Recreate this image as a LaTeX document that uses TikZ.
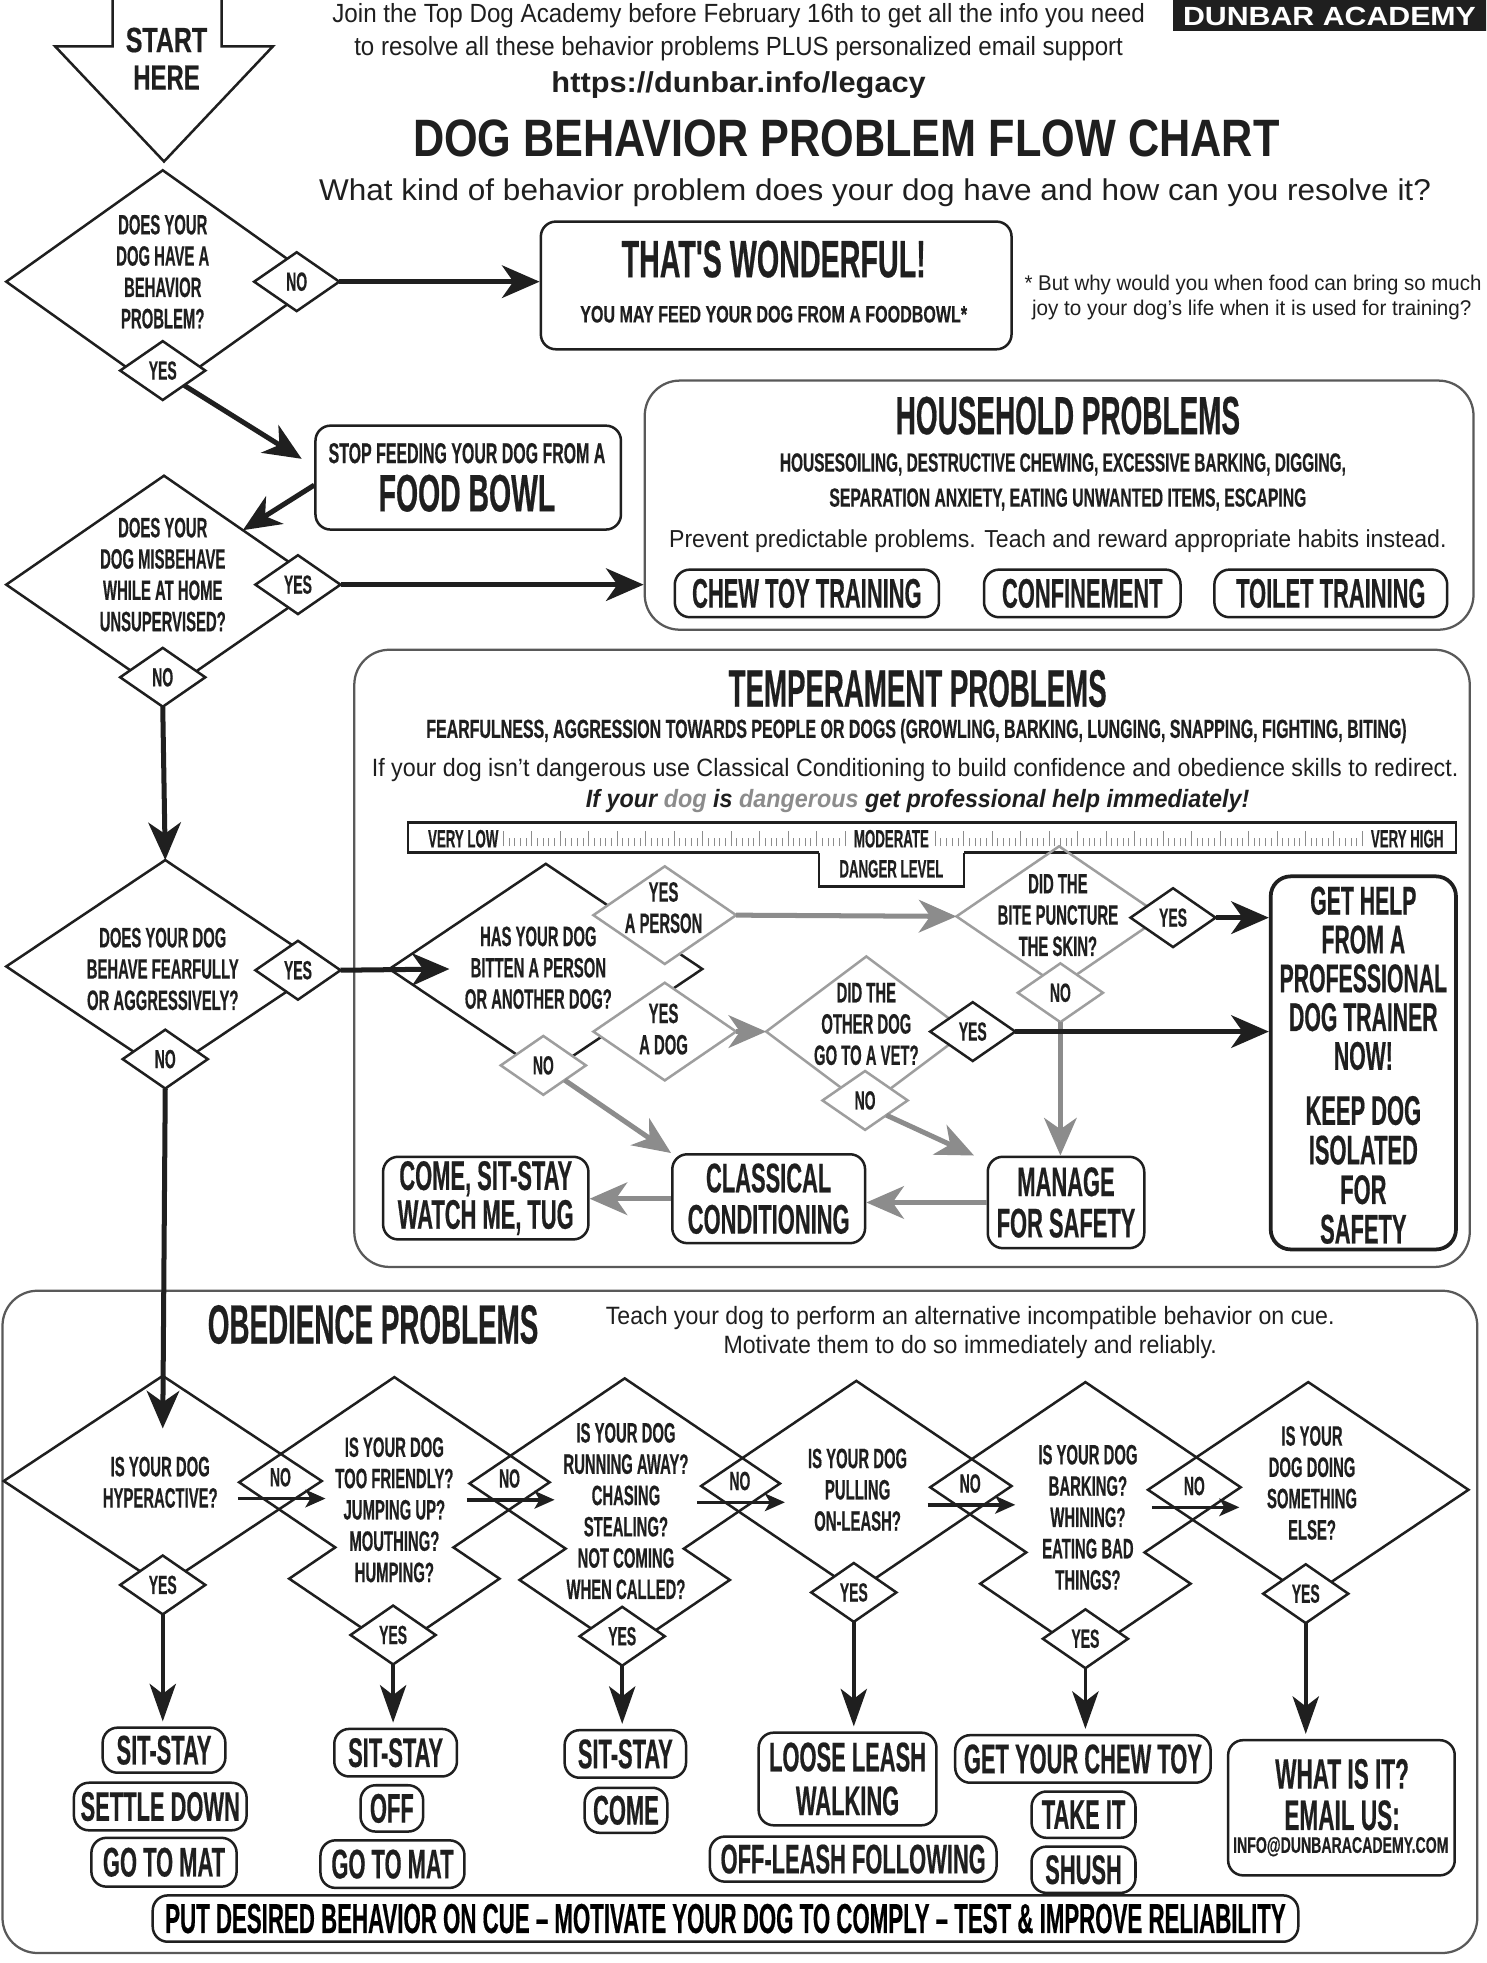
\documentclass[tikz,border=0pt]{standalone}
\usepackage{fontspec}
\usepackage{graphicx}
\setmainfont{Liberation Sans}
\newfontfamily\cf[FakeStretch=0.53,FakeBold=0.4]{Liberation Sans}
\usetikzlibrary{arrows.meta,shapes.geometric}
\newcommand\fw[2]{\resizebox{#1}{\height}{#2}}
\definecolor{ink}{gray}{0.12}
\definecolor{gry}{gray}{0.55}
\definecolor{lgry}{gray}{0.62}
\definecolor{pan}{gray}{0.35}
\tikzset{
  q/.style={font=\cf\bfseries\fontsize{11.2}{12.5}\selectfont, align=center, text=ink, inner sep=0pt},
  yn/.style={font=\cf\bfseries\fontsize{10.5}{11}\selectfont, align=center, text=ink, inner sep=0pt},
  big/.style={font=\cf\bfseries\fontsize{16.5}{16.5}\selectfont, align=center, text=ink, inner sep=0pt},
  dshape/.style={diamond, draw=ink, line width=1pt, inner sep=0pt, outer sep=0pt},
  gshape/.style={dshape, draw=lgry},
  ghost/.style={diamond, inner sep=0pt, outer sep=0pt},
  smd/.style={diamond, draw=ink, fill=white, line width=1pt, inner sep=0pt, outer sep=0pt, minimum width=34pt, minimum height=23.5pt, yn},
  gsmd/.style={smd, draw=lgry},
  box/.style={draw=ink, line width=1pt, rounded corners=6pt, inner sep=0pt, fill=white},
  panel/.style={draw=pan, line width=0.9pt, rounded corners=14pt, inner sep=0pt},
  darr/.style={draw=ink, line width=2pt, -{Stealth[length=15pt,width=13pt,inset=4.5pt]}},
  garr/.style={draw=gry, line width=2pt, -{Stealth[length=15pt,width=13pt,inset=4.5pt]}},
  varr/.style={draw=ink, line width=1.5pt, -{Stealth[length=15pt,width=10.5pt,inset=4pt]}},
  narr/.style={draw=ink, line width=1.4pt, -{Stealth[length=8pt,width=7pt,inset=2pt]}},
  txt/.style={inner sep=0pt, text=ink},
  tick/.style={draw=gry, line width=0.35pt},
  cft/.style={font=\cf\bfseries\fontsize{10}{11}\selectfont, text=ink, inner sep=0pt},
}
\begin{document}
\begin{tikzpicture}[x=0.5pt,y=-0.5pt]
\useasboundingbox (0,0) rectangle (1187,1568);
\begin{scope}
\clip (0,0) rectangle (1187,1568);
\fill[white] (0,0) rectangle (1187,1568);

% ---------------- header
\fill[ink] (937,-5) rectangle (1190,25);
\node[anchor=base, inner sep=0pt, text=white] (brand) at (1062,20) {\fw{117pt}{\bfseries\fontsize{10.5}{12}\selectfont DUNBAR ACADEMY}};
\node[anchor=base, txt] (hd1) at (590,18) {\fw{324.5pt}{\fontsize{10.5}{12}\selectfont Join the Top Dog Academy before February 16th to get all the info you need}};
\node[anchor=base, txt] (hd2) at (590,44) {\fw{307pt}{\fontsize{10.5}{12}\selectfont to resolve all these behavior problems PLUS personalized email support}};
\node[anchor=base, txt] (url) at (590,74) {\fw{149.5pt}{\bfseries\fontsize{11.5}{13}\selectfont https://dunbar.info/legacy}};
\node[anchor=base, txt] (title) at (676,125) {\fw{346pt}{\bfseries\fontsize{21}{24}\selectfont DOG BEHAVIOR PROBLEM FLOW CHART}};
\node[anchor=base, txt] (sub) at (699,160) {\fw{444pt}{\fontsize{12}{14}\selectfont What kind of behavior problem does your dog have and how can you resolve it?}};

% START HERE arrow
\draw[ink, line width=1pt] (90,-2) -- (90,37) -- (44,37) -- (131,129) -- (218,37) -- (177,37) -- (177,-2);
\node[txt] (start1) at (133,32) {\fw{32.5pt}{\cf\bfseries\fontsize{14}{14}\selectfont START}};
\node[txt] (start2) at (133,62) {\fw{26.5pt}{\cf\bfseries\fontsize{14}{14}\selectfont HERE}};

% ---------------- panels
\node[panel, minimum width=331pt, minimum height=99.5pt] (house) at (846,403.5) {};
\node[panel, minimum width=445.5pt, minimum height=246.5pt] (temp) at (728.5,765.5) {};
\node[panel, minimum width=589pt, minimum height=264.5pt] (obed) at (591,1295.5) {};

% ---------------- top boxes
\node[box, minimum width=188pt, minimum height=51pt] (wonder) at (620,228) {};
\node[txt] (wt1) at (618,207) {\fw{121.5pt}{\cf\bfseries\fontsize{21}{22}\selectfont THAT'S WONDERFUL!}};
\node[txt] (wt2) at (618,251) {\fw{154.5pt}{\cf\bfseries\fontsize{9.5}{10}\selectfont YOU MAY FEED YOUR DOG FROM A FOODBOWL*}};
\node[txt, anchor=base west] (fn1) at (818,232) {\fw{182.5pt}{\fontsize{8.5}{10}\selectfont * But why would you when food can bring so much}};
\node[txt, anchor=base west] (fn2) at (824,252) {\fw{175.5pt}{\fontsize{8.5}{10}\selectfont joy to your dog's life when it is used for training?}};

\node[box, minimum width=122pt, minimum height=41.5pt] (stop) at (374,381.5) {};
\node[txt] (st1) at (373,362) {\fw{110.5pt}{\cf\bfseries\fontsize{11.5}{12}\selectfont STOP FEEDING YOUR DOG FROM A}};
\node[txt] (st2) at (373,394) {\fw{70.5pt}{\cf\bfseries\fontsize{21}{22}\selectfont FOOD BOWL}};

% household contents
\node[txt] (ht1) at (853,332) {\fw{137.5pt}{\cf\bfseries\fontsize{21.5}{22}\selectfont HOUSEHOLD PROBLEMS}};
\node[txt] (ht2) at (849,371) {\fw{226pt}{\cf\bfseries\fontsize{10.5}{11}\selectfont HOUSESOILING, DESTRUCTIVE CHEWING, EXCESSIVE BARKING, DIGGING,}};
\node[txt] (ht3) at (853,399) {\fw{190.5pt}{\cf\bfseries\fontsize{10.5}{11}\selectfont SEPARATION ANXIETY, EATING UNWANTED ITEMS, ESCAPING}};
\node[txt] (ht4) at (845,432) {\fw{310.5pt}{\fontsize{9.8}{11}\selectfont Prevent predictable problems. Teach and reward appropriate habits instead.}};
\node[box, big, minimum width=105.5pt, minimum height=19pt] (chew) at (644.5,474) {CHEW TOY TRAINING};
\node[box, big, minimum width=78.5pt, minimum height=19pt] (conf) at (864.5,474) {CONFINEMENT};
\node[box, big, minimum width=93pt, minimum height=19pt] (toilet) at (1063,474) {TOILET TRAINING};

% temperament header
\node[txt] (tt1) at (733,550) {\fw{151pt}{\cf\bfseries\fontsize{21}{22}\selectfont TEMPERAMENT PROBLEMS}};
\node[txt] (tt2) at (732,584) {\fw{391.5pt}{\cf\bfseries\fontsize{10.5}{11}\selectfont FEARFULNESS, AGGRESSION TOWARDS PEOPLE OR DOGS (GROWLING, BARKING, LUNGING, SNAPPING, FIGHTING, BITING)}};
\node[txt] (tt3) at (731,615) {\fw{434pt}{\fontsize{10}{12}\selectfont If your dog isn't dangerous use Classical Conditioning to build confidence and obedience skills to redirect.}};
\node[txt] (tt4) at (733,640) {\fw{265pt}{\bfseries\itshape\fontsize{10}{12}\selectfont If your \textcolor{gry}{dog} is \textcolor{gry}{dangerous} get professional help immediately!}};

% danger bar
\draw[ink, line width=1pt] (654,681) -- (326,681) -- (326,657) -- (1163,657) -- (1163,681) -- (770,681);
\draw[ink, line width=1pt] (654,681) -- (654,708) -- (770,708) -- (770,681);
\foreach \i in {0,...,60} {\pgfmathsetmacro\yy{mod(\i,5)==0 ? 664 : 669}\draw[tick] ({402+4.55*\i},676) -- ({402+4.55*\i},\yy);}
\foreach \i in {0,...,75} {\pgfmathsetmacro\yy{mod(\i,5)==0 ? 664 : 669}\draw[tick] ({747+4.55*\i},676) -- ({747+4.55*\i},\yy);}
\node[cft, fill=white, inner xsep=1pt] (vlow) at (370,670) {VERY LOW};
\node[cft, fill=white, inner xsep=1pt] (vmod) at (712,670) {MODERATE};
\node[cft, fill=white, inner xsep=1pt] (vhigh) at (1124,670) {VERY HIGH};
\node[cft] (dlev) at (712,694) {DANGER LEVEL};

% ---------------- main column diamonds
\node[dshape, minimum width=125pt, minimum height=89pt] (d1) at (130,225) {};
\node[q] (d1t) at (130,217) {DOES YOUR\\DOG HAVE A\\BEHAVIOR\\PROBLEM?};
\node[smd] (d1no) at (237,225) {NO};
\node[smd] (d1yes) at (130,296) {YES};

\node[dshape, minimum width=126pt, minimum height=87pt] (d2) at (131,467) {};
\node[q] (d2t) at (130,459) {DOES YOUR\\DOG MISBEHAVE\\WHILE AT HOME\\UNSUPERVISED?};
\node[smd] (d2yes) at (238,467) {YES};
\node[smd] (d2no) at (130,541) {NO};

\node[dshape, minimum width=127pt, minimum height=85pt] (d3) at (132,772) {};
\node[q] (d3t) at (130,774) {DOES YOUR DOG\\BEHAVE FEARFULLY\\OR AGGRESSIVELY?};
\node[smd] (d3yes) at (238,775) {YES};
\node[smd] (d3no) at (132,846) {NO};

% ---------------- temperament flow
\node[dshape, minimum width=125pt, minimum height=84pt] (d5) at (436,774) {};
\node[q] (d5t) at (430,773) {HAS YOUR DOG\\BITTEN A PERSON\\OR ANOTHER DOG?};
\node[gshape, fill=white, minimum width=57pt, minimum height=39pt] (yperson) at (531,731) {};
\node[q] (ypt) at (530,725) {YES\\A PERSON};
\node[gshape, fill=white, minimum width=57pt, minimum height=39pt] (ydog) at (531,824) {};
\node[q] (ydt) at (530,822) {YES\\A DOG};
\node[gsmd] (d5no) at (434,851) {NO};

\node[gshape, minimum width=82pt, minimum height=56pt] (d6) at (846,732) {};
\node[q] (d6t) at (845,731) {DID THE\\BITE PUNCTURE\\THE SKIN?};
\node[smd] (d6yes) at (937,733) {YES};
\node[gsmd] (d6no) at (847,793) {NO};

\node[gshape, minimum width=80pt, minimum height=60pt] (d7) at (692,824) {};
\node[q] (d7t) at (692,818) {DID THE\\OTHER DOG\\GO TO A VET?};
\node[smd] (d7yes) at (777,824) {YES};
\node[gsmd] (d7no) at (691,879) {NO};

\node[box, line width=1.5pt, rounded corners=8pt, minimum width=74pt, minimum height=149pt] (gethelp) at (1089,849) {};
\node[big, font=\cf\bfseries\fontsize{16}{15.5}\selectfont] (gh1) at (1089,781.5) {GET HELP\\FROM A\\PROFESSIONAL\\DOG TRAINER\\NOW!};
\node[big, font=\cf\bfseries\fontsize{16.5}{15.8}\selectfont] (gh2) at (1089,934.5) {KEEP DOG\\ISOLATED\\FOR\\SAFETY};
\node[box, big, minimum width=62.5pt, minimum height=36.5pt] (manage) at (851.5,960.5) {MANAGE\\FOR SAFETY};
\node[box, big, minimum width=77pt, minimum height=35.5pt] (classic) at (614,957.5) {CLASSICAL\\CONDITIONING};
\node[box, big, font=\cf\bfseries\fontsize{16.5}{15.5}\selectfont, minimum width=82pt, minimum height=33pt] (come) at (388,957) {COME, SIT-STAY\\WATCH ME, TUG};

% ---------------- obedience
\node[txt] (ot1) at (298,1058) {\fw{132pt}{\cf\bfseries\fontsize{22}{23}\selectfont OBEDIENCE PROBLEMS}};
\node[txt] (ot2) at (775,1053) {\fw{291pt}{\fontsize{10}{12}\selectfont Teach your dog to perform an alternative incompatible behavior on cue.}};
\node[txt] (ot3) at (775,1076) {\fw{197pt}{\fontsize{10}{12}\selectfont Motivate them to do so immediately and reliably.}};

\node[dshape, minimum width=127pt, minimum height=84pt] (d8) at (130,1183) {};
\node[q] (d8t) at (128,1184) {IS YOUR DOG\\HYPERACTIVE?};

\node[ghost, minimum width=124pt, minimum height=84pt] (d9u) at (315,1184) {};
\node[ghost, minimum width=84pt, minimum height=57pt] (d9l) at (315,1261) {};
\draw[ink, line width=1pt] (d9u.north) -- (d9u.west) -- (intersection of d9u.west--d9u.south and d9l.west--d9l.north) -- (d9l.west) -- (d9l.south) -- (d9l.east) -- (intersection of d9u.east--d9u.south and d9l.east--d9l.north) -- (d9u.east) -- cycle;
\node[q] (d9t) at (315,1206) {IS YOUR DOG\\TOO FRIENDLY?\\JUMPING UP?\\MOUTHING?\\HUMPING?};

\node[ghost, minimum width=124pt, minimum height=84pt] (d10u) at (499,1185) {};
\node[ghost, minimum width=84pt, minimum height=57pt] (d10l) at (499,1262) {};
\draw[ink, line width=1pt] (d10u.north) -- (d10u.west) -- (intersection of d10u.west--d10u.south and d10l.west--d10l.north) -- (d10l.west) -- (d10l.south) -- (d10l.east) -- (intersection of d10u.east--d10u.south and d10l.east--d10l.north) -- (d10u.east) -- cycle;
\node[q] (d10t) at (500,1207) {IS YOUR DOG\\RUNNING AWAY?\\CHASING\\STEALING?\\NOT COMING\\WHEN CALLED?};

\node[dshape, minimum width=124pt, minimum height=84pt] (d11) at (684,1187) {};
\node[q] (d11t) at (685,1190) {IS YOUR DOG\\PULLING\\ON-LEASH?};

\node[ghost, minimum width=124pt, minimum height=84pt] (d12u) at (867,1188) {};
\node[ghost, minimum width=84pt, minimum height=57pt] (d12l) at (867,1265) {};
\draw[ink, line width=1pt] (d12u.north) -- (d12u.west) -- (intersection of d12u.west--d12u.south and d12l.west--d12l.north) -- (d12l.west) -- (d12l.south) -- (d12l.east) -- (intersection of d12u.east--d12u.south and d12l.east--d12l.north) -- (d12u.east) -- cycle;
\node[q] (d12t) at (869,1212) {IS YOUR DOG\\BARKING?\\WHINING?\\EATING BAD\\THINGS?};

\node[dshape, minimum width=128pt, minimum height=86pt] (d13) at (1045,1190) {};
\node[q] (d13t) at (1048,1184.5) {IS YOUR\\DOG DOING\\SOMETHING\\ELSE?};

\node[smd] (d8yes) at (130,1266) {YES};
\node[smd] (d9yes) at (314,1306) {YES};
\node[smd] (d10yes) at (497,1307) {YES};
\node[smd] (d11yes) at (682,1272) {YES};
\node[smd] (d12yes) at (867,1309) {YES};
\node[smd] (d13yes) at (1043,1273) {YES};

\node[yn] (n1) at (224,1180) {NO};
\node[yn] (n2) at (407,1181) {NO};
\node[yn] (n3) at (591,1183) {NO};
\node[yn] (n4) at (775,1185) {NO};
\node[yn] (n5) at (954,1187) {NO};
\foreach \n in {n1,n2,n3,n4,n5}{\draw[narr] ([xshift=-17pt,yshift=-8.5pt]\n.center) -- ([xshift=18pt,yshift=-8.5pt]\n.center);}

% answer boxes
\node[box, big, minimum width=49pt, minimum height=18pt] (ss1) at (131,1398) {SIT-STAY};
\node[box, big, minimum width=69pt, minimum height=19pt] (settle) at (128,1443) {SETTLE DOWN};
\node[box, big, minimum width=58pt, minimum height=19.5pt] (mat1) at (131,1487.5) {GO TO MAT};
\node[box, big, minimum width=49pt, minimum height=19pt] (ss2) at (316,1400) {SIT-STAY};
\node[box, big, minimum width=25pt, minimum height=18.5pt] (off) at (313,1444.5) {OFF};
\node[box, big, minimum width=57.5pt, minimum height=19pt] (mat2) at (313.5,1489) {GO TO MAT};
\node[box, big, minimum width=48.5pt, minimum height=19pt] (ss3) at (499.5,1401) {SIT-STAY};
\node[box, big, minimum width=33pt, minimum height=18pt] (come3) at (500,1446) {COME};
\node[box, big, font=\cf\bfseries\fontsize{16.5}{17.5}\selectfont, minimum width=71pt, minimum height=37pt] (loose) at (677,1421) {LOOSE LEASH\\WALKING};
\node[box, big, minimum width=114.5pt, minimum height=18pt] (offleash) at (681.5,1485) {OFF-LEASH FOLLOWING};
\node[box, big, minimum width=102pt, minimum height=19pt] (chewtoy) at (865,1405) {GET YOUR CHEW TOY};
\node[box, big, minimum width=41.5pt, minimum height=18.5pt] (takeit) at (865.5,1449.5) {TAKE IT};
\node[box, big, minimum width=41.5pt, minimum height=18.5pt] (shush) at (865.5,1493.5) {SHUSH};
\node[box, minimum width=90.5pt, minimum height=54pt] (whatis) at (1071.5,1444) {};
\node[big, font=\cf\bfseries\fontsize{17}{16.5}\selectfont] (wi1) at (1072,1433.5) {WHAT IS IT?\\EMAIL US:};
\node[txt] (wi2) at (1071,1475) {\fw{86pt}{\cf\bfseries\fontsize{9}{10}\selectfont INFO@DUNBARACADEMY.COM}};
\node[box, minimum width=457.5pt, minimum height=18.5pt] (putbox) at (579.5,1532.5) {\fw{447.5pt}{\cf\bfseries\fontsize{16.7}{17}\selectfont PUT DESIRED BEHAVIOR ON CUE – MOTIVATE YOUR DOG TO COMPLY – TEST \& IMPROVE RELIABILITY}};

% ---------------- connectors
\coordinate (a2t) at ([xshift=-5pt,yshift=7.5pt]stop.west);
\coordinate (a3s) at ([yshift=-3pt]stop.west);
\coordinate (a6t) at ([xshift=24pt]d5.west);
\coordinate (a7t) at ([yshift=-21pt]d8.north);
\draw[darr] (d1no.east) -- (d1no.east -| wonder.west);
\draw[darr] (d1yes.south east) -- (a2t);
\draw[darr] (a3s) -- (d2.north east);
\draw[darr] (d2yes.east) -- (d2yes.east -| house.west);
\draw[darr] (d2no.south) -- (d3.north);
\draw[darr] (d3yes.east) -- (a6t);
\draw[darr] (d3no.south) -- (a7t);

\draw[garr] (yperson.east) -- (d6.west);
\draw[garr] (ydog.east) -- (d7.west);
\draw[garr] (d5no.south east) -- (classic.north west);
\draw[garr] (d7no.south east) -- ([xshift=-5pt]manage.north west);
\draw[garr] (d6no.south) -- (d6no.south |- manage.north);
\draw[garr] (manage.west) -- (manage.west -| classic.east);
\draw[garr] (classic.west) -- (classic.west -| come.east);
\draw[darr] (d6yes.east) -- (d6yes.east -| gethelp.west);
\draw[darr] (d7yes.east) -- (d7yes.east -| gethelp.west);

\draw[varr, shorten >=2pt] (d8yes.south) -- (d8yes.south |- ss1.north);
\draw[varr, shorten >=2pt] (d9yes.south) -- (d9yes.south |- ss2.north);
\draw[varr, shorten >=2pt] (d10yes.south) -- (d10yes.south |- ss3.north);
\draw[varr, shorten >=2pt] (d11yes.south) -- (d11yes.south |- loose.north);
\draw[varr, shorten >=2pt] (d12yes.south) -- (d12yes.south |- chewtoy.north);
\draw[varr, shorten >=2pt] (d13yes.south) -- (d13yes.south |- whatis.north);
\end{scope}
\end{tikzpicture}
\end{document}
